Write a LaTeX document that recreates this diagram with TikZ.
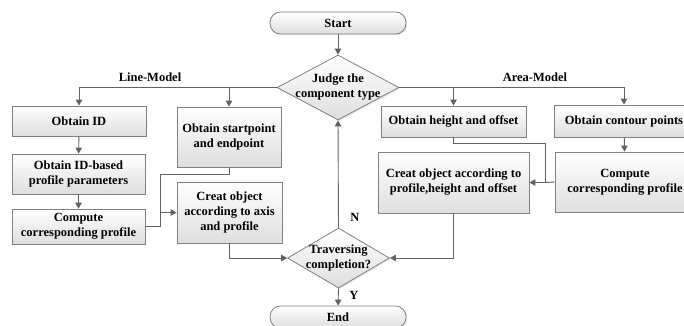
\documentclass[tikz,border=0pt]{standalone}
\usepackage{fontspec}
\setmainfont{Liberation Serif}
\usetikzlibrary{arrows.meta,shapes.geometric,shadows}

\begin{document}
\begin{tikzpicture}[x=1pt,y=-1pt,
  lbl/.style={font=\fontsize{12.5}{15}\selectfont\bfseries, text=black, align=center, inner sep=0pt},
  shade/.style={draw=black!50, line width=0.8pt, top color=white, bottom color=black!13,
    drop shadow={opacity=0.18, shadow xshift=1.2pt, shadow yshift=-1.2pt}},
  box/.style={shade, lbl, rectangle},
  term/.style={shade, lbl, rectangle, rounded corners=10.5pt, minimum width=136pt, minimum height=22pt},
  decision/.style={shade, diamond, inner sep=0pt},
  conn/.style={draw=black!62, line width=0.9pt},
  arr/.style={conn, -{Triangle[length=6pt,width=6.5pt]}}
]
\useasboundingbox (0,0) rectangle (684,325);
\clip (0,0) rectangle (684,325);

% terminals
\node[term] (start) at (338,23) {Start};
\node[term] (end) at (338,317) {End};

% decisions
\node[decision, minimum width=122pt, minimum height=65pt] (judge) at (338,87.5) {};
\node[lbl] (judgetxt) at (judge.center) {Judge the\\component type};
\node[decision, minimum width=102pt, minimum height=60pt] (trav) at (338.5,258) {};
\node[lbl] (travtxt) at (trav.center) {Traversing\\completion?};

% line-model branch
\node[box, minimum width=134pt, minimum height=30pt] (id) at (79,121) {Obtain ID};
\node[box, minimum width=133pt, minimum height=40pt] (idpar) at (78.5,174) {Obtain ID-based\\profile parameters};
\node[box, minimum width=133pt, minimum height=35pt] (compL) at (78.5,226.5) {Compute\\corresponding profile};
\node[box, minimum width=104pt, minimum height=60pt] (pts) at (229,137) {Obtain startpoint\\and endpoint};
\node[box, minimum width=105pt, minimum height=61pt] (axobj) at (229.5,212.5) {Creat object\\according to axis\\and profile};

% area-model branch
\node[box, minimum width=145pt, minimum height=31pt] (hgt) at (453.5,121.5) {Obtain height and offset};
\node[box, minimum width=140pt, minimum height=32pt] (cont) at (624,121) {Obtain contour points};
\node[box, minimum width=151pt, minimum height=61pt] (prfobj) at (453.5,182.5) {Creat object according to\\profile,height and offset};
\node[box, minimum width=140pt, minimum height=60pt] (compR) at (625,182) {Compute\\corresponding profile};

% branch labels
\node[lbl] (linelab) at (150,77) {Line-Model};
\node[lbl] (arealab) at (535,77) {Area-Model};
\node[lbl] (nlab) at (355,217) {N};
\node[lbl] (ylab) at (354,295) {Y};

% junction points
\coordinate (jL) at (160,212.5);
\coordinate (jR) at (545,182.5);

% connectors
\draw[arr] (start) -- (judge.north);
\draw[arr] (judge.west) -| (id.north);
\draw[arr] (judge.west) -| (pts.north);
\draw[arr] (judge.east) -| (hgt.north);
\draw[arr] (judge.east) -| (cont.north);
\draw[arr] (id) -- (idpar);
\draw[arr] (idpar) -- (compL);
\draw[conn] (pts.south) -- ++(0,7) -| (jL);
\draw[conn] (compL.east) -| (jL);
\draw[arr] (jL) -- (axobj.west);
\draw[arr] (axobj.south) |- (trav.west);
\draw[conn] (hgt.south) -- ++(0,6) -| (jR);
\draw[conn] (compR.west) -- (jR);
\draw[arr] (jR) -- (prfobj.east);
\draw[arr] (cont) -- (compR);
\draw[arr] (prfobj.south) |- (trav.east);
\draw[arr] (trav.north) -- (judge.south);
\draw[arr] (trav.south) -- (end.north);
\end{tikzpicture}
\end{document}
